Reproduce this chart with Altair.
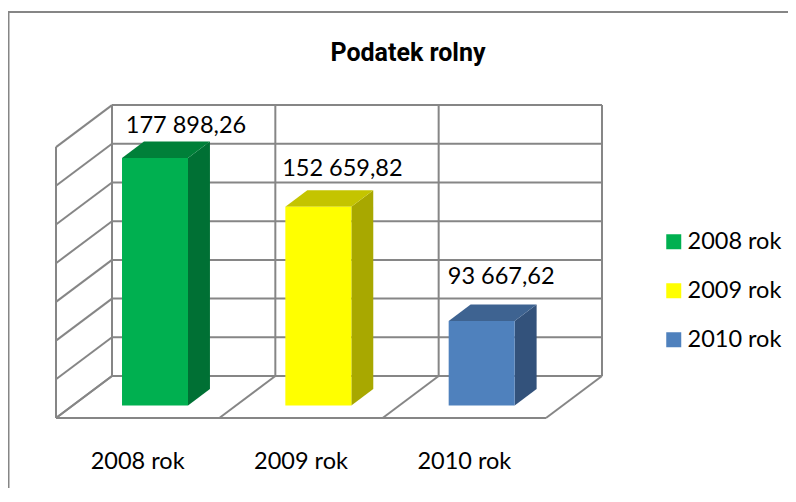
import altair as alt
import pandas as pd

# ---- values ----
years = ["2008 rok", "2009 rok", "2010 rok"]
values = [177898.26, 152659.82, 93667.62]
labels = ["177 898,26", "152 659,82", "93 667,62"]
front_colors = ["#00B050", "#FFFF00", "#4F81BD"]
top_colors = ["#008039", "#C4C400", "#3E6391"]
side_colors = ["#007034", "#A8A800", "#33527B"]
axis_min, axis_max, axis_step = 50000, 190000, 20000
title_text = "Podatek rolny"

# ---- oblique projection set-up (data units) ----
W, H = 780, 480
PX_PER_CAT = 163.33
PX_PER_VAL = 0.001935
ORIGIN_X, ORIGIN_Y = 48, 410       # local pixel of category 0 / axis_min on the front plane
DEPTH_X = 56 / PX_PER_CAT          # full floor depth in category units
DEPTH_V = 42 / PX_PER_VAL          # full floor depth in value units
BAR_LO, BAR_HI = 0.302, 0.706      # bar extent inside a category
D0, D1 = 0.298, 0.69               # bar front/back depth

xdom = [-ORIGIN_X / PX_PER_CAT, (W - ORIGIN_X) / PX_PER_CAT]
ydom = [axis_min - (H - ORIGIN_Y) / PX_PER_VAL, axis_min + ORIGIN_Y / PX_PER_VAL]
xs = alt.Scale(domain=xdom, range=[0, W], nice=False, zero=False)
ys = alt.Scale(domain=ydom, range=[H, 0], nice=False, zero=False)


def px(u, d=0.0):
    return u + d * DEPTH_X


def pv(v, d=0.0):
    return v + d * DEPTH_V


n = len(years)
levels = list(range(axis_min, axis_max + 1, axis_step))

grid = []
for v in levels:                                  # back wall horizontals + left wall slants
    grid.append(dict(x=px(0, 1), x2=px(n, 1), y=pv(v, 1), y2=pv(v, 1)))
    grid.append(dict(x=px(0), x2=px(0, 1), y=pv(v), y2=pv(v, 1)))
for i in range(n + 1):                            # back wall verticals + floor slants
    grid.append(dict(x=px(i, 1), x2=px(i, 1), y=pv(axis_min, 1), y2=pv(axis_max, 1)))
    grid.append(dict(x=px(i), x2=px(i, 1), y=pv(axis_min), y2=pv(axis_min, 1)))
grid.append(dict(x=px(0), x2=px(0), y=pv(axis_min), y2=pv(axis_max)))   # front left edge
grid.append(dict(x=px(0), x2=px(n), y=pv(axis_min), y2=pv(axis_min)))   # front floor edge

enc = dict(
    x=alt.X("x:Q", scale=xs, axis=None),
    x2="x2:Q",
    y=alt.Y("y:Q", scale=ys, axis=None),
    y2="y2:Q",
)
layers = [
    alt.Chart(pd.DataFrame(grid)).mark_rule(color="#868686", strokeWidth=2).encode(**enc)
]

fronts = []
for i, (yr, v) in enumerate(zip(years, values)):
    l, r = i + BAR_LO, i + BAR_HI
    # side face: sloping parallelogram
    side = pd.DataFrame([
        dict(x=px(r, D0), y=pv(axis_min, D0), y2=pv(v, D0)),
        dict(x=px(r, D1), y=pv(axis_min, D1), y2=pv(v, D1)),
    ])
    layers.append(
        alt.Chart(side).mark_area(color=side_colors[i], opacity=1).encode(
            x=alt.X("x:Q", scale=xs, axis=None),
            y=alt.Y("y:Q", scale=ys, axis=None),
            y2="y2:Q",
        )
    )
    # top face: horizontal-oriented parallelogram
    top = pd.DataFrame([
        dict(y=pv(v, D0), x=px(l, D0), x2=px(r, D0)),
        dict(y=pv(v, D1), x=px(l, D1), x2=px(r, D1)),
    ])
    layers.append(
        alt.Chart(top).mark_area(color=top_colors[i], opacity=1, orient="horizontal").encode(
            y=alt.Y("y:Q", scale=ys, axis=None),
            x=alt.X("x:Q", scale=xs, axis=None),
            x2="x2:Q",
        )
    )
    fronts.append(dict(year=yr, x=px(l, D0), x2=px(r, D0), y=pv(axis_min, D0), y2=pv(v, D0)))

FONT = "Lato"
SIZE = 23.5

layers.append(
    alt.Chart(pd.DataFrame(fronts)).mark_rect(opacity=1).encode(
        x=alt.X("x:Q", scale=xs, axis=None),
        x2="x2:Q",
        y=alt.Y("y:Q", scale=ys, axis=None),
        y2="y2:Q",
        color=alt.Color(
            "year:N",
            scale=alt.Scale(domain=years, range=front_colors),
            legend=alt.Legend(
                title=None,
                orient="none",
                legendX=654,
                legendY=222,
                symbolType="square",
                symbolSize=225,
                symbolStrokeWidth=0,
                symbolOpacity=1,
                labelFont=FONT,
                labelFontSize=SIZE,
                labelColor="#000000",
                labelOffset=2,
                labelLimit=200,
                rowPadding=24,
                padding=0,
            ),
        ),
    )
)

# data labels: hand-placed in the source, so each carries its own offset
label_offsets = [(31, -32), (24, -38), (19.5, -44)]
for i, (lab, v) in enumerate(zip(labels, values)):
    center = i + (BAR_LO + BAR_HI) / 2
    layers.append(
        alt.Chart(pd.DataFrame([dict(x=px(center, D0), y=pv(v, D0), t=lab)]))
        .mark_text(font=FONT, fontSize=SIZE, color="#000000", align="center", baseline="middle",
                   dx=label_offsets[i][0], dy=label_offsets[i][1])
        .encode(x=alt.X("x:Q", scale=xs, axis=None), y=alt.Y("y:Q", scale=ys, axis=None), text="t:N")
    )

# category labels below the floor
cat = pd.DataFrame([dict(x=px(i + 0.5), y=axis_min, t=yr) for i, yr in enumerate(years)])
layers.append(
    alt.Chart(cat)
    .mark_text(font=FONT, fontSize=SIZE, color="#000000", align="center", baseline="middle", dy=44)
    .encode(x=alt.X("x:Q", scale=xs, axis=None), y=alt.Y("y:Q", scale=ys, axis=None), text="t:N")
)

# title, as a text mark centred over the chart
layers.append(
    alt.Chart(pd.DataFrame([dict(t=title_text)]))
    .mark_text(font="Roboto", fontSize=25, fontWeight="bold", color="#000000",
               align="center", baseline="middle")
    .encode(x=alt.value(400), y=alt.value(45), text="t:N")
)

# chart frame: only the top and left edges fall inside the picture
layers.append(
    alt.Chart(pd.DataFrame([dict(a=0)]))
    .mark_rule(color="#868686", strokeWidth=2)
    .encode(x=alt.value(0), x2=alt.value(W), y=alt.value(4))
)
layers.append(
    alt.Chart(pd.DataFrame([dict(a=0)]))
    .mark_rule(color="#868686", strokeWidth=2)
    .encode(x=alt.value(0.5), y=alt.value(4), y2=alt.value(H))
)

chart = (
    alt.layer(*layers)
    .resolve_scale(color="independent")
    .properties(width=W, height=H, padding=0, background="white",
                autosize=alt.AutoSizeParams(type="none"))
    .configure_view(stroke=None)
)
chart.save("out.html", embed_options={"renderer": "svg", "actions": False})
